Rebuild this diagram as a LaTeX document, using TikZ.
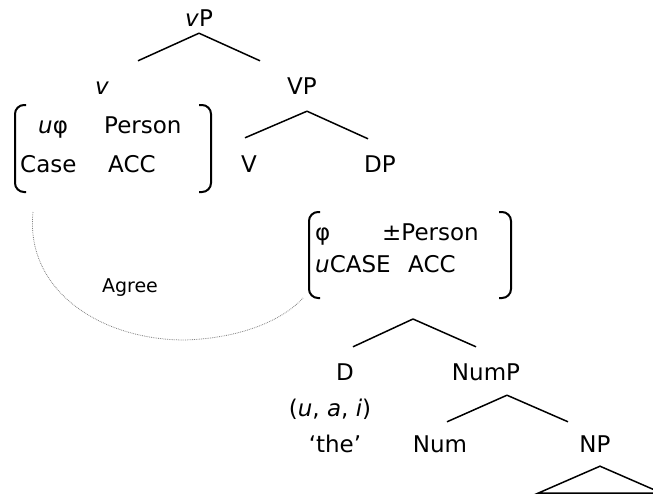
\documentclass[tikz,border=0pt]{standalone}
\usepackage{fontspec}
\setmainfont{DejaVu Sans}
\tikzset{
  lbl/.style={anchor=base, inner sep=0pt, text height=16pt, text depth=4pt, font=\fontsize{23}{27}\selectfont},
  cell/.style={anchor=base west, inner sep=0pt, font=\fontsize{23}{27}\selectfont},
  branch/.style={draw, line width=1.5pt},
  bracket/.style={draw, line width=2pt, rounded corners=9pt},
  agree/.style={draw, gray, densely dotted, line width=0.8pt}
}

\begin{document}
\begin{tikzpicture}[x=1pt,y=-1pt]
\useasboundingbox (0,0) rectangle (653,495);
\clip (0,0) rectangle (653,495);

% vP
\node [lbl] at (199,27) (vP) {\textit{v}P};
\node [lbl] at (102,94) (v) {\textit{v}};
\node [lbl] at (302,94) (VP) {VP};
\path [branch] ([yshift=-2pt]vP.south) -- ([xshift=36pt,yshift=17pt]v.north);
\path [branch] ([yshift=-2pt]vP.south) -- ([xshift=-42pt,yshift=17pt]VP.north);

% features of v
\node [cell] at (38,133) (vphi) {\textit{u}φ};
\node [cell] at (104,133) (vpers) {Person};
\node [cell] at (20,172) (vcase) {Case};
\node [cell] at (108,172) (vacc) {ACC};
\path [bracket] (26,105) -- (15,105) -- (15,192) -- (26,192);
\path [bracket] (199,105) -- (211,105) -- (211,192) -- (199,192);

% VP
\node [lbl] at (249,172) (V) {V};
\node [lbl] at (380,172) (DP) {DP};
\path [branch] ([xshift=5pt,yshift=-13pt]VP.south) -- ([xshift=-4pt,yshift=18pt]V.north);
\path [branch] ([xshift=5pt,yshift=-13pt]VP.south) -- ([xshift=-12pt,yshift=17pt]DP.north);

% features of DP
\node [cell] at (315,240) (dphi) {φ};
\node [cell] at (382,240) (dpers) {±Person};
\node [cell] at (315,272) (dcase) {\textit{u}CASE};
\node [cell] at (408,272) (dacc) {ACC};
\path [bracket] (320,212) -- (309,212) -- (309,298) -- (320,298);
\path [bracket] (499,212) -- (511,212) -- (511,298) -- (499,298);

% Agree
\coordinate (agreeL) at (33,212);
\coordinate (agreeR) at (303,298);
\node [lbl, font=\fontsize{19}{23}\selectfont] at (130,292) (agree) {Agree};
\path [agree] (agreeL) .. controls (25,290) and (100,340) .. (185,340)
  .. controls (245,338) and (285,318) .. (agreeR);

% DP
\coordinate (dpfork) at (413,319);
\node [lbl] at (345,380) (D) {D};
\node [lbl] at (486,380) (NumP) {NumP};
\path [branch] (dpfork) -- ([xshift=8pt,yshift=17pt]D.north);
\path [branch] (dpfork) -- ([xshift=-10pt,yshift=17pt]NumP.north);
\node [lbl] at (330,416) (dvals) {(\textit{u}, \textit{a}, \textit{i})};
\node [lbl] at (335,452) (the) {`the'};

% NumP
\node [lbl] at (440,452) (Num) {Num};
\node [lbl] at (595,452) (NP) {NP};
\path [branch] ([xshift=21pt,yshift=-11pt]NumP.south) -- ([xshift=7pt,yshift=14pt]Num.north);
\path [branch] ([xshift=21pt,yshift=-11pt]NumP.south) -- ([xshift=-27pt,yshift=14pt]NP.north);
\path [branch] ([xshift=5pt,yshift=-10pt]NP.south) -- ([xshift=-57pt,yshift=-37pt]NP.south)
  -- ([xshift=67pt,yshift=-37pt]NP.south) -- cycle;

\end{tikzpicture}
\end{document}
